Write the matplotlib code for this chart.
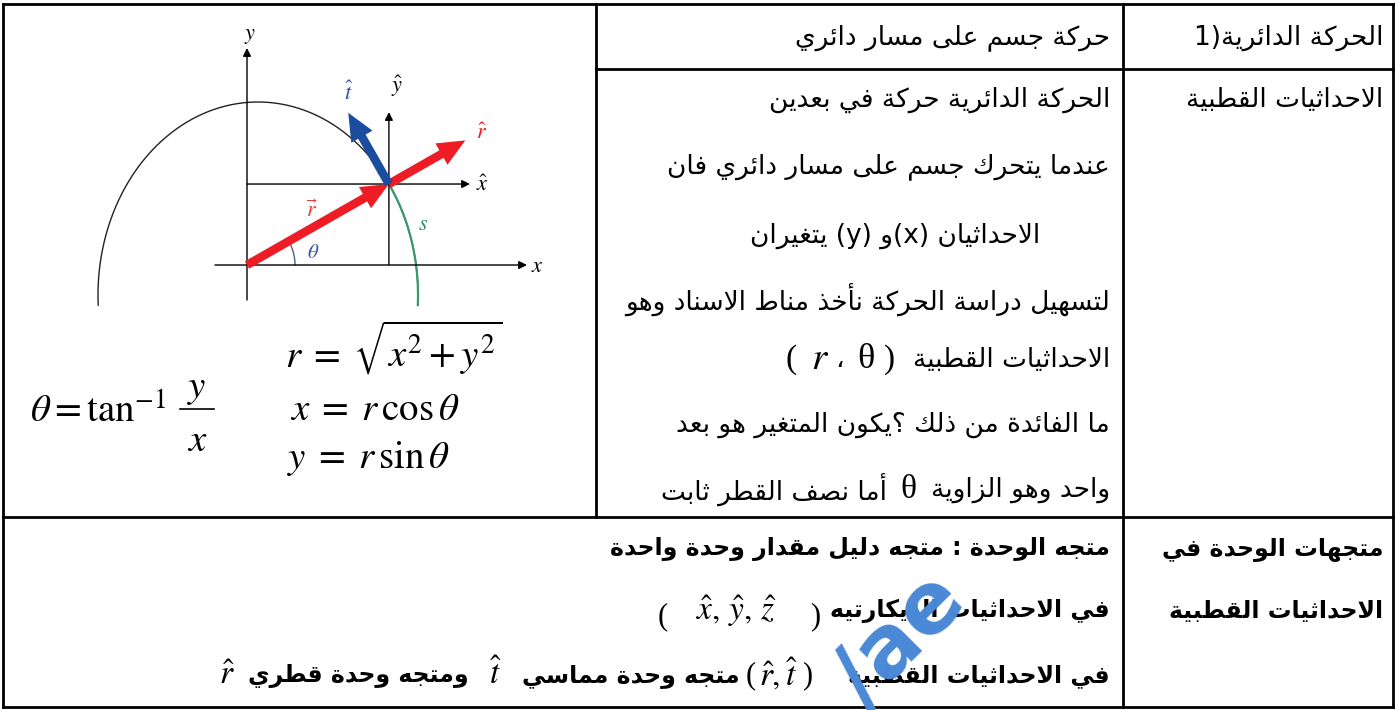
import numpy as np
import matplotlib
matplotlib.use("Agg")
import matplotlib.pyplot as plt

plt.rcParams['font.family'] = ['DejaVu Sans']
plt.rcParams['mathtext.fontset'] = 'stix'

# ============ النصوص ============
r1_head = "الحركة الدائرية"
r1_mid = "حركة جسم على مسار دائري"
r2_head = "الاحداثيات القطبية"
r2_lines = [
    "الحركة الدائرية حركة في بعدين",
    "عندما يتحرك جسم على مسار دائري فان",
    None,  # سطر مختلط (x) و (y)
    "لتسهيل دراسة الحركة نأخذ مناط الاسناد وهو",
    None,  # الاحداثيات القطبية ( r، θ )
    "ما الفائدة من ذلك ؟يكون المتغير هو بعد",
    None,  # سطر مختلط θ
]
r2_y = [100, 167, 236, 300, 360, 425, 490]
r3_head = ["متجهات الوحدة في", "الاحداثيات القطبية"]
r3_line1 = "متجه الوحدة : متجه دليل مقدار وحدة واحدة"
r3_line2 = "في الاحداثيات الديكارتيه"
r3_line3 = ["في الاحداثيات القطبية", "متجه وحدة مماسي", "ومتجه وحدة قطري"]
r3_y = [549, 611, 676]

# ============ الجدول ============
col_x = [3, 596, 1123, 1393]
row_y = [4, 69, 517, 707]

# ============ تشكيل الحروف العربية ============
FORMS = {}
for ch, start, n in [('ء', 0xFE80, 1), ('آ', 0xFE81, 2), ('أ', 0xFE83, 2), ('ؤ', 0xFE85, 2),
                     ('إ', 0xFE87, 2), ('ئ', 0xFE89, 4), ('ا', 0xFE8D, 2), ('ب', 0xFE8F, 4),
                     ('ة', 0xFE93, 2), ('ت', 0xFE95, 4), ('ث', 0xFE99, 4), ('ج', 0xFE9D, 4),
                     ('ح', 0xFEA1, 4), ('خ', 0xFEA5, 4), ('د', 0xFEA9, 2), ('ذ', 0xFEAB, 2),
                     ('ر', 0xFEAD, 2), ('ز', 0xFEAF, 2), ('س', 0xFEB1, 4), ('ش', 0xFEB5, 4),
                     ('ص', 0xFEB9, 4), ('ض', 0xFEBD, 4), ('ط', 0xFEC1, 4), ('ظ', 0xFEC5, 4),
                     ('ع', 0xFEC9, 4), ('غ', 0xFECD, 4), ('ف', 0xFED1, 4), ('ق', 0xFED5, 4),
                     ('ك', 0xFED9, 4), ('ل', 0xFEDD, 4), ('م', 0xFEE1, 4), ('ن', 0xFEE5, 4),
                     ('ه', 0xFEE9, 4), ('و', 0xFEED, 2), ('ى', 0xFEEF, 2), ('ي', 0xFEF1, 4)]:
    FORMS[ch] = (start, n)
LAMALEF = {'آ': 0xFEF5, 'أ': 0xFEF7, 'إ': 0xFEF9, 'ا': 0xFEFB}
MIRROR = {'(': ')', ')': '('}


def joins_fwd(ch):
    return ch in FORMS and FORMS[ch][1] == 4


def shape(text):
    out = []
    i = 0
    while i < len(text):
        ch = text[i]
        if ch not in FORMS:
            out.append(MIRROR.get(ch, ch))
            i += 1
            continue
        jp = i > 0 and joins_fwd(text[i - 1])
        if ch == 'ل' and i + 1 < len(text) and text[i + 1] in LAMALEF:
            out.append(chr(LAMALEF[text[i + 1]] + (1 if jp else 0)))
            i += 2
            continue
        nxt = text[i + 1] if i + 1 < len(text) else ''
        jn = joins_fwd(ch) and nxt in FORMS and FORMS[nxt][1] > 1
        k = 3 if (jp and jn) else 1 if jp else 2 if jn else 0
        start, n = FORMS[ch]
        code = start + k if n == 4 else start + (k % 2) if n == 2 else start
        out.append(chr(code))
        i += 1
    return ''.join(reversed(out))


# ============ الرسم ============
W, H = 1399, 710
fig = plt.figure(figsize=(W / 100, H / 100), dpi=100)
ax = fig.add_axes([0, 0, 1, 1])
ax.set_xlim(0, W)
ax.set_ylim(H, 0)
ax.axis('off')
renderer = fig.canvas.get_renderer()

x0, x1, x2, x3 = col_x
y0, y1, y2, y3 = row_y
segs = [((x0, y0), (x3, y0)), ((x0, y3), (x3, y3)), ((x0, y0), (x0, y3)), ((x3, y0), (x3, y3)),
        ((x1, y0), (x1, y2)), ((x2, y0), (x2, y3)), ((x1, y1), (x3, y1)), ((x0, y2), (x3, y2))]
for (a, b), (c, d) in segs:
    ax.plot([a, c], [b, d], color='black', lw=2.0, solid_capstyle='projecting')

AR = 19
AR3 = 17
RX_MID = 1110
RX_HEAD = 1383

ARAB = dict(fontsize=AR)
ARAB3 = dict(fontsize=AR3, fontweight='bold')
PAREN = dict(fontsize=22, family='Liberation Serif')
MATH = dict(fontsize=24)


def ar(x, y, s, size=AR, weight='normal', ha='right'):
    ax.text(x, y, s, ha=ha, va='center', fontsize=size, fontweight=weight)


def mt(x, y, s, size=22, color='black', ha='center'):
    ax.text(x, y, s, ha=ha, va='center', fontsize=size, color=color)


def flow(y, right, items):
    # يرسم القطع من اليمين الى اليسار
    x = right
    for s, kw, dy, gap in items:
        t = ax.text(x, y + dy, s, ha='right', va='center', **kw)
        x -= t.get_window_extent(renderer).width + gap


# الصف الأول
ar(RX_HEAD, 38, "1)" + shape(r1_head))
ar(RX_MID, 38, shape(r1_mid))

# الصف الثاني
ar(RX_HEAD, r2_y[0], shape(r2_head))
for line, yy in zip(r2_lines, r2_y):
    if line is not None:
        ar(RX_MID, yy, shape(line))
ar(1040, r2_y[2], shape("يتغيران") + " (y) " + shape("و") + "(x) " + shape("الاحداثيان"))
flow(r2_y[4], RX_MID, [
    (shape("الاحداثيات القطبية"), ARAB, 0, 18),
    (")", dict(fontsize=24, family='Liberation Serif'), 0, 9),
    ("θ", dict(fontsize=26, family='Liberation Serif'), 0, 14),
    ("\u060c", ARAB, 0, 6),
    (r"$r$", dict(fontsize=28), -2, 14),
    ("(", dict(fontsize=24, family='Liberation Serif'), 0, 0),
])
flow(r2_y[6], RX_MID, [
    (shape("واحد وهو الزاوية"), ARAB, 0, 14),
    ("θ", dict(fontsize=24, family='Liberation Serif'), 0, 14),
    (shape("أما نصف القطر ثابت"), ARAB, 0, 0),
])

# الصف الثالث
for s, yy in zip(r3_head, r3_y[:2]):
    ar(RX_HEAD, yy, shape(s), size=AR3, weight='bold')
ar(RX_MID, r3_y[0], shape(r3_line1), size=AR3, weight='bold')
flow(r3_y[1], RX_MID, [
    (shape(r3_line2), ARAB3, 0, 10),
    (")", PAREN, 6, 34),
    (r"$\hat{x},\,\hat{y},\,\hat{z}$", MATH, 0, 28),
    ("(", PAREN, 6, 0),
])
flow(r3_y[2], RX_MID, [
    (shape(r3_line3[0]), ARAB3, 0, 36),
    (")", PAREN, 0, 4),
    (r"$\hat{r},\hat{t}$", MATH, -2, 4),
    ("(", PAREN, 0, 6),
    (shape(r3_line3[1]), ARAB3, 0, 20),
    (r"$\hat{t}$", MATH, -2, 20),
    (shape(r3_line3[2]), ARAB3, 0, 14),
    (r"$\hat{r}$", MATH, -2, 0),
])

# ============ المخطط ============
origin = np.array([247.0, 265.0])
ell_c = np.array([258.0, 295.0])
ell_a, ell_b = 160.0, 193.0
t_p = np.deg2rad(35.1)
P = ell_c + np.array([ell_a * np.cos(t_p), -ell_b * np.sin(t_p)])

t_all = np.linspace(np.deg2rad(-3), np.deg2rad(183), 400)
ax.plot(ell_c[0] + ell_a * np.cos(t_all), ell_c[1] - ell_b * np.sin(t_all), color='#222222', lw=1.0)
t_s = np.linspace(np.deg2rad(-3), t_p, 100)
ax.plot(ell_c[0] + ell_a * np.cos(t_s), ell_c[1] - ell_b * np.sin(t_s), color='#3a9a6a', lw=1.6)


def arrow(tail, tip, color='black', lw=1.0, ms=12, style='-|>'):
    ax.annotate('', xy=tip, xytext=tail,
                arrowprops=dict(arrowstyle=style, color=color, lw=lw, mutation_scale=ms,
                                shrinkA=0, shrinkB=0))


# المحاور
arrow((origin[0], 300), (origin[0], 48))
arrow((215, origin[1]), (527, origin[1]))
arrow((origin[0], P[1]), (470, P[1]))
arrow((P[0], origin[1]), (P[0], 112))

phi = np.arctan2(origin[1] - P[1], P[0] - origin[0])
u_r = np.array([np.cos(phi), -np.sin(phi)])
u_t = np.array([-np.sin(phi), -np.cos(phi)])
thick = 'simple,head_length=0.9,head_width=0.8,tail_width=0.28'
arrow(origin, P, color='#ee1c24', lw=0, ms=22, style=thick)
arrow(P, P + 88 * u_r, color='#ee1c24', lw=0, ms=22, style=thick)
arrow(P, P + 82 * u_t, color='#1a4d9e', lw=0, ms=22, style=thick)

t_th = np.linspace(0, phi, 50)
ax.plot(origin[0] + 48 * np.cos(t_th), origin[1] - 48 * np.sin(t_th), color='#4a5f8a', lw=1.0)

mt(250, 36, r"$y$", size=16)
mt(537, 266, r"$x$", size=16)
mt(482, 185, r"$\hat{x}$", size=16)
mt(397, 86, r"$\hat{y}$", size=16)
mt(349, 92, r"$\hat{t}$", size=16, color='#2a4f9e')
mt(482, 133, r"$\hat{r}$", size=16, color='#ee1c24')
mt(312, 210, r"$\vec{r}$", size=16, color='#e04040')
mt(423, 224, r"$s$", size=16, color='#3a8a7a')
mt(313, 252, r"$\theta$", size=15, color='#3a5a9a')

# ============ المعادلات ============
mt(285, 348, r"$r \;=\; \sqrt{x^2 + y^2}$", size=28, ha='left')
mt(30, 412, r"$\theta = \tan^{-1}$", size=28, ha='left')
mt(197, 388, r"$y$", size=28)
ax.plot([180, 214], [409, 409], color='black', lw=1.2)
mt(197, 440, r"$x$", size=28)
mt(290, 409, r"$x \;=\; r\,\cos\theta$", size=28, ha='left')
mt(287, 459, r"$y \;=\; r\,\sin\theta$", size=28, ha='left')

# العلامة المائية
ax.text(900, 640, "/ae", ha='center', va='center', fontsize=62, fontweight='bold',
        color='#4a89d6', rotation=45, zorder=5, clip_on=True)

fig.savefig("out.png", dpi=100)
